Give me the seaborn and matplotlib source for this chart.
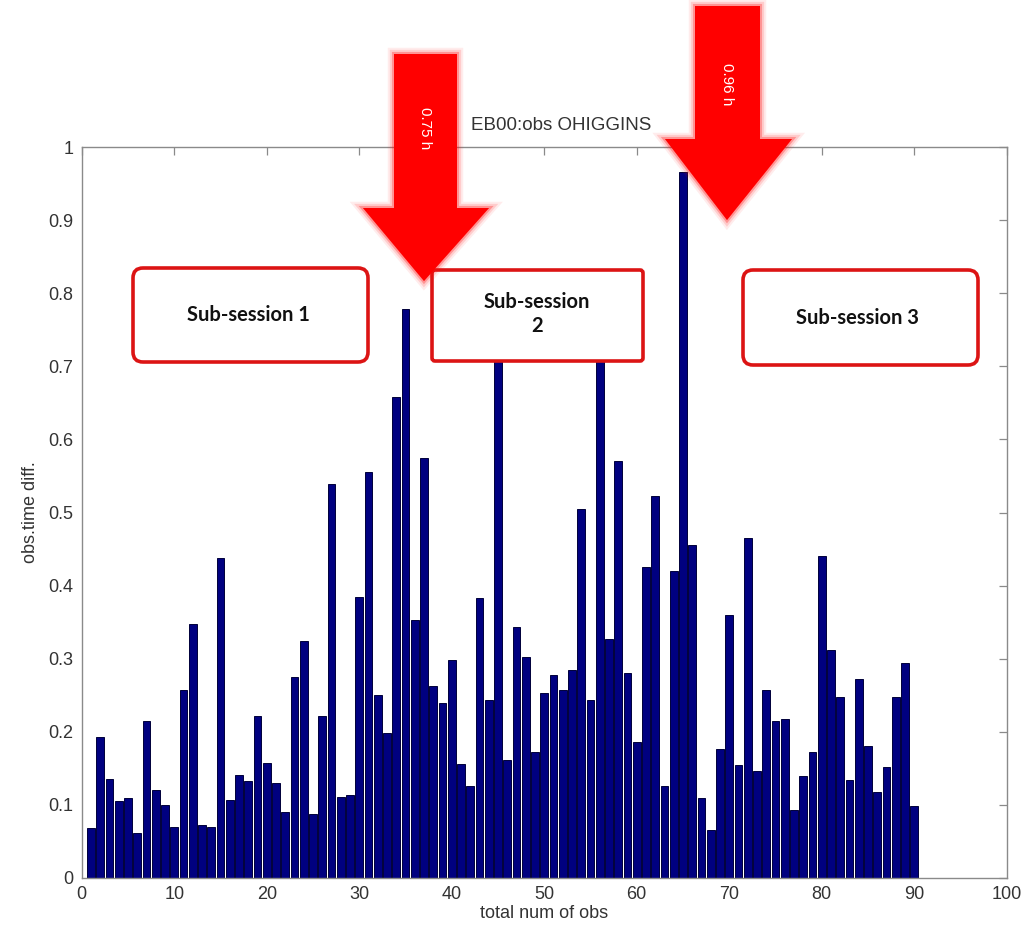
import numpy as np
import pandas as pd
import matplotlib
matplotlib.use("Agg")
import matplotlib.pyplot as plt
import matplotlib.patheffects as pe
from matplotlib.patches import Polygon, FancyBboxPatch
import seaborn as sns

# ---------------- data ----------------
obs_index = list(range(1, 91))
time_diff = [
    0.068, 0.193, 0.136, 0.106, 0.110, 0.062, 0.215, 0.120, 0.100, 0.070,
    0.257, 0.347, 0.073, 0.070, 0.438, 0.107, 0.141, 0.133, 0.222, 0.158,
    0.130, 0.090, 0.275, 0.324, 0.087, 0.221, 0.539, 0.111, 0.114, 0.385,
    0.555, 0.250, 0.198, 0.658, 0.778, 0.353, 0.575, 0.263, 0.239, 0.298,
    0.156, 0.126, 0.383, 0.244, 0.750, 0.161, 0.344, 0.303, 0.173, 0.253,
    0.278, 0.257, 0.285, 0.505, 0.244, 0.740, 0.327, 0.570, 0.280, 0.186,
    0.426, 0.523, 0.126, 0.420, 0.966, 0.456, 0.110, 0.066, 0.176, 0.360,
    0.155, 0.465, 0.147, 0.257, 0.215, 0.218, 0.093, 0.140, 0.173, 0.440,
    0.312, 0.247, 0.134, 0.272, 0.181, 0.117, 0.152, 0.247, 0.294, 0.098,
]
x_ticks = list(range(0, 101, 10))
y_ticks = [0, 0.1, 0.2, 0.3, 0.4, 0.5, 0.6, 0.7, 0.8, 0.9, 1]
y_tick_labels = ["0", "0.1", "0.2", "0.3", "0.4", "0.5", "0.6", "0.7", "0.8", "0.9", "1"]
title_text = "EB00:obs OHIGGINS"
x_label = "total num of obs"
y_label = "obs.time diff."
arrow_labels = ["0.75 h", "0.96 h"]
session_labels = ["Sub-session 1", "Sub-session\n2", "Sub-session 3"]

df = pd.DataFrame({"obs": obs_index, "diff": time_diff})

# ---------------- style ----------------
sns.set_style("white")
plt.rcParams["font.family"] = ["Liberation Sans", "DejaVu Sans"]

W, H = 1028, 934
fig = plt.figure(figsize=(W / 100, H / 100), dpi=100)
fig.patch.set_facecolor("white")

ax_l, ax_r, ax_t, ax_b = 81.7, 1006.7, 147, 878
ax = fig.add_axes([ax_l / W, 1 - ax_b / H, (ax_r - ax_l) / W, (ax_b - ax_t) / H])

sns.barplot(data=df, x="obs", y="diff", native_scale=True, width=0.84,
            color="#000080", saturation=1, edgecolor="#00003a", linewidth=0.7,
            ax=ax)

ax.set_xlim(0, 100)
ax.set_ylim(0, 1)
ax.set_xticks(x_ticks)
ax.set_xticklabels([str(t) for t in x_ticks])
ax.set_yticks(y_ticks)
ax.set_yticklabels(y_tick_labels)

axis_gray = "#8a8a8a"
text_gray = "#333333"
for s in ax.spines.values():
    s.set_color(axis_gray)
    s.set_linewidth(1.0)
    s.set_visible(True)
ax.tick_params(axis="both", direction="in", length=6, width=0.9, color=axis_gray,
               labelsize=13, labelcolor=text_gray, top=True, right=True, pad=6)
ax.set_xlabel(x_label, fontsize=13, color=text_gray, labelpad=1)
ax.set_ylabel(y_label, fontsize=13, color=text_gray, labelpad=7)
ax.text((561 - ax_l) / (ax_r - ax_l), 1.018, title_text, transform=ax.transAxes,
        ha="center", va="bottom", fontsize=13.5, color=text_gray)

# ---------------- overlay annotations (pixel coords) ----------------
ov = fig.add_axes([0, 0, 1, 1])
ov.set_xlim(0, W)
ov.set_ylim(H, 0)
ov.axis("off")
ov.patch.set_visible(False)

box_edge = "#dc1414"
box_specs = [
    (133, 268, 368, 362, 10, (248, 315)),
    (432, 270, 643, 361, 3, (537, 314)),
    (743, 270, 978, 365, 10, (858, 318)),
]
for (x0, y0, x1, y1, r, (tx, ty)), lab in zip(box_specs, session_labels):
    bp = FancyBboxPatch((x0 + r, y0 + r), (x1 - x0) - 2 * r, (y1 - y0) - 2 * r,
                        boxstyle=f"round,pad={r}", facecolor="white",
                        edgecolor=box_edge, linewidth=2.6, zorder=3)
    ov.add_patch(bp)
    ov.text(tx, ty, lab, ha="center", va="center", fontsize=14.5,
            fontweight="bold", family=["Lato", "DejaVu Sans"], color="#111111",
            linespacing=1.25, zorder=4)

arrow_specs = [
    # shaft x0, shaft x1, top y, head base y, head x0, head x1, tip x, tip y, text pos
    (394, 457, 54, 208, 363, 489, 424, 281, (425, 128)),
    (695, 760, 6, 139, 665, 792, 727, 220, (727, 84)),
]
glow = [pe.Stroke(linewidth=w, foreground="#ff1010", alpha=a)
        for w, a in [(9, 0.08), (6, 0.14), (3, 0.3)]] + [pe.Normal()]
for (sx0, sx1, ty, hy, hx0, hx1, px, py, tp), lab in zip(arrow_specs, arrow_labels):
    pts = [(sx0, ty), (sx1, ty), (sx1, hy), (hx1, hy), (px, py), (hx0, hy), (sx0, hy)]
    poly = Polygon(pts, closed=True, facecolor="#ff0000", edgecolor="none", zorder=5)
    poly.set_path_effects(glow)
    ov.add_patch(poly)
    ov.text(tp[0], tp[1], lab, rotation=-90, ha="center", va="center",
            fontsize=11, color="white", zorder=6)

fig.savefig("out.png", dpi=100, facecolor="white")
